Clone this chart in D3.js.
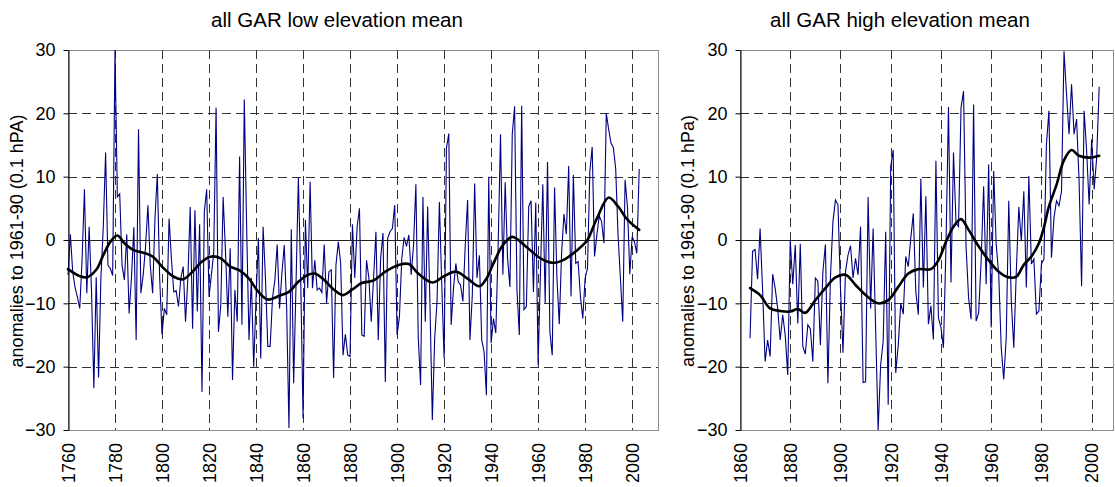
<!DOCTYPE html>
<html>
<head>
<meta charset="utf-8">
<script src="https://cdn.jsdelivr.net/npm/d3@7"></script>
<style>
  body { margin: 0; background: #fff; }
  text { font-family: "Liberation Sans", Arial, sans-serif; fill: #000; }
</style>
</head>
<body>
<div id="chart"></div>
<script>
/* Constant definitions */
const WIDTH = 1115
const HEIGHT = 487
const PLOT_TOP = 50
const PLOT_BOTTOM = 430
const Y_TICKS = [-30, -20, -10, 0, 10, 20, 30]
const GRID_Y = [-20, -10, 10, 20]

/* low elevation mean, annual values from 1760 */
const LOW_START = 1760
const lowValues = [
  -5.5, 0.9, -5, -7.5, -9, -10.8, -3, 8, -8.4, 2.1,
  -8, -23.4, -5.9, -21.7, -6, 2, 13.8, -4, -4.5, -5.6,
  30, 6.8, 7.3, -4, -6.3, 0.9, -11.6, -6, 2, -15.8,
  17.5, -8.4, -5.5, -1, 5.5, -4, -8.4, 3.4, 10.4, -6,
  -14.9, -10.8, -11.8, 3.4, -3, -8.2, -8, -10.5, -6, -4.2,
  -12.9, -6, 5.2, -14, 4.7, -11.3, 2.5, -24, 4.5, 8,
  -9, -5.5, -2, 20.9, -14.5, -10.3, 6.8, -1.8, -12.1, -1.3,
  -22.1, -7.9, -12.9, 13.2, -13.4, 22.2, 2.1, -15.8, -6, -20,
  -9.2, 0.3, -18.7, 2.1, -6, -16.8, -16.8, -9.2, -6.3, -0.7,
  -10.8, -5.3, -0.8, -10.3, -29.7, 1.7, -22.6, -7.1, 9.8, -6,
  -28.2, 3.2, -7.6, 9.2, -7.6, -3.2, -7.9, -7.6, -8.3, -0.7,
  -10, -5, -4.7, -21.8, -3.9, -0.3, -3.7, -18.2, -14.9, -18.2,
  -18.4, 2.5, -6, 2.1, 5, -15, -15.2, -3.2, -6, -12.9,
  -6, 1.3, -15.8, -2.9, 1.1, -22.4, 0.3, 1.3, 1.8, 5.5,
  -15, -12.1, -2.9, 0.4, -1, 0.8, -5.5, -0.8, 8.8, -15.3,
  -22.9, 6.8, -12.9, 5.3, -10.3, -28.4, -15.5, -9.7, 6, -7,
  -18.7, 14.5, 16.8, -13.4, -7.6, -3.7, -6.6, -7.1, -9.7, -0.8,
  6.3, -15.8, -8.7, 8.9, -6, -2.4, -15.8, -17.6, -24.5, 10,
  -16.3, -12.4, -14.7, -1, 16.7, -5.5, 9.1, -2.9, -7.4, 16.7,
  21.1, -7.9, -15, 21.2, -11, -10.5, 5.3, 6.2, -8.2, 5.9,
  -19.7, -5, 8.8, -10, 12.3, -14.5, -18.2, 8.3, -6, -13.3,
  -2, 4.1, 0.9, 11.7, -8.9, 10.3, -3.7, -3.4, -8.9, -12.4,
  -6, -4.5, 10.8, 14.7, -2.6, 0.8, 3.8, 2.9, -0.5, 20,
  17.5, 15.3, 14.6, 11.3, 0.8, -6, -12.9, 9.5, 5.3, -5.4,
  0.5, -0.3, -2.1, 11.2
]
const lowSmoothYears = [1760, 1765, 1768, 1772, 1775, 1778, 1781, 1784, 1788, 1792, 1796, 1800, 1805, 1809, 1813, 1817, 1821, 1825, 1829, 1833, 1837, 1841, 1845, 1850, 1854, 1858, 1862, 1865, 1869, 1873, 1877, 1881, 1885, 1890, 1895, 1901, 1905, 1909, 1915, 1920, 1925, 1930, 1935, 1938, 1941, 1945, 1949, 1955, 1961, 1966, 1970, 1975, 1979, 1981, 1985, 1990, 1994, 1998, 2003]
const lowSmooth = [-4.6, -5.7, -5.9, -4.7, -2.4, -0.3, 0.7, -0.5, -1.6, -2, -2.6, -4.2, -5.8, -6.2, -5, -3.4, -2.6, -2.9, -4.2, -4.8, -6.1, -8.2, -9.4, -8.8, -8.2, -6.6, -5.5, -5.3, -6.3, -7.8, -8.7, -7.8, -6.8, -6.4, -5, -3.9, -3.8, -5.3, -6.7, -5.7, -5, -6.1, -7.3, -6.1, -3.7, -0.8, 0.5, -1.1, -2.9, -3.6, -3.3, -2.1, -0.8, 0, 3.4, 6.7, 5.3, 3.2, 1.6]
const lowTicks = [1760, 1780, 1800, 1820, 1840, 1860, 1880, 1900, 1920, 1940, 1960, 1980, 2000]

/* high elevation mean, annual values from 1864 */
const HIGH_START = 1864
const highValues = [
  -15.5, -1.8, -1.5, -6.2, 1.8, -8,
  -19.2, -15.8, -18.4, -5.4, -7.6, -10.8, -15.8, -11.8, -15, -21.3,
  0, -7, -0.8, -13.2, -0.6, -16.8, -18, -13.4, -14, -19.2,
  -6, -6.5, -16.6, -5, -0.7, -22.6, -6, 2.9, 6.3, 5.6,
  -7.6, -17.8, -5, -2.4, -0.9, -6, -2.9, -5.5, 2.1, -22.5,
  -22.4, 6.8, -10.8, 1.8, -13.9, -30, -19.7, -16, 1.3, -26,
  11.6, 14.2, -21, -16.6, -10, -11.7, -2.6, -4.2, 0.3, 4.2,
  -8.2, -11.8, 9.7, -7.5, 6.9, -13.3, -10.4, -15.7, 12.5, -12.3,
  -13.8, -17, -1, 21, -6.7, 13.8, 2.7, 2.1, 20.9, 23.5,
  -1, -9.1, -12.5, 21.4, -12.8, -11.5, -3.3, 8.5, -7, 11.9,
  -13.8, 10.9, -0.7, -5.4, -17, -22, -15.4, 6.2, -9.6, -17,
  -5, 5.2, -0.2, 7.7, -7.5, 10.1, -3.8, -3, -11.7, -11.2,
  -3.8, -3, 15.1, 20.4, -2.8, 3.5, 6.2, 5.4, 7.7, 29.8,
  23, 16.7, 24.6, 16.7, 19.1, 9.3, -7.3, 20.4, 14.1, 5.6,
  15.9, 8, 13, 24.2
]
const highSmoothYears = [1864, 1868, 1872, 1876, 1880, 1883, 1886, 1890, 1894, 1898, 1902, 1906, 1910, 1915, 1919, 1923, 1927, 1931, 1936, 1939, 1942, 1945, 1948, 1951, 1955, 1959, 1963, 1967, 1970, 1973, 1976, 1979, 1981, 1983, 1986, 1989, 1992, 1995, 1999, 2003]
const highSmooth = [-7.6, -8.7, -10.8, -11.2, -11.3, -10.9, -11.5, -9.5, -7.6, -5.9, -5.5, -7.1, -8.7, -10, -9.5, -7.4, -5.3, -4.6, -4.6, -3.2, -0.3, 2.1, 3.3, 1.6, -1, -3.2, -5, -5.9, -5.8, -3.9, -2.6, -0.5, 2, 5.3, 8.7, 12.6, 14.2, 13.3, 13, 13.3]
const highTicks = [1860, 1880, 1900, 1920, 1940, 1960, 1980, 2000]

/* Define svg */
const canvas = d3.select("#chart")
                 .append("svg")
                 .attr("width", WIDTH)
                 .attr("height", HEIGHT);
canvas.append("rect").attr("width", WIDTH).attr("height", HEIGHT).attr("fill", "#fff");

const drawPanel = (p) => {
  const xScale = d3.scaleLinear().domain(p.domain).range([p.left, p.right]);
  const yScale = d3.scaleLinear().domain([-30, 30]).range([PLOT_BOTTOM, PLOT_TOP]);
  const g = canvas.append("g");

  // plot frame
  g.append("rect")
   .attr("x", p.left + 0.5).attr("y", PLOT_TOP + 0.5)
   .attr("width", p.right - p.left).attr("height", PLOT_BOTTOM - PLOT_TOP)
   .attr("fill", "none").attr("stroke", "#8c8c8c");

  // dashed grid
  g.selectAll(".hgrid").data(GRID_Y).enter().append("line")
   .attr("x1", p.left).attr("x2", p.right)
   .attr("y1", (d) => Math.round(yScale(d)) + 0.5).attr("y2", (d) => Math.round(yScale(d)) + 0.5)
   .attr("stroke", "#333").attr("stroke-dasharray", "9,5");
  g.selectAll(".vgrid").data(p.ticks.slice(1)).enter().append("line")
   .attr("x1", (d) => Math.round(xScale(d)) + 0.5).attr("x2", (d) => Math.round(xScale(d)) + 0.5)
   .attr("y1", PLOT_TOP).attr("y2", PLOT_BOTTOM)
   .attr("stroke", "#333").attr("stroke-dasharray", "9,5");

  // annual series
  const line = d3.line().x((d) => xScale(d[0])).y((d) => yScale(d[1]));
  const annual = p.values.map((v, i) => [p.start + i, v]);
  g.append("path").datum(annual)
   .attr("d", line).attr("fill", "none")
   .attr("stroke", "#000080").attr("stroke-width", 1.1);

  // zero line
  g.append("line")
   .attr("x1", p.left).attr("x2", p.right)
   .attr("y1", Math.round(yScale(0)) + 0.5).attr("y2", Math.round(yScale(0)) + 0.5)
   .attr("stroke", "#222");

  // smoothed curve
  const smooth = p.smoothYears.map((yr, i) => [yr, p.smooth[i]]);
  g.append("path").datum(smooth)
   .attr("d", line.curve(d3.curveCatmullRom)).attr("fill", "none")
   .attr("stroke", "#000").attr("stroke-width", 2.6)
   .attr("stroke-linejoin", "round").attr("stroke-linecap", "round");

  // value axis
  const yAxis = d3.axisLeft(yScale).tickValues(Y_TICKS).tickSizeInner(5).tickSizeOuter(0).tickPadding(8);
  const ya = g.append("g").attr("transform", "translate(" + (p.left + 0.5) + ",0)").call(yAxis);
  ya.select(".domain").attr("stroke", "#000");
  ya.selectAll("text").style("font-size", "18px").attr("font-family", null);

  // category labels, rotated
  const xAxis = d3.axisBottom(xScale).tickValues(p.ticks).tickSize(0).tickFormat(d3.format("d"));
  const xa = g.append("g").attr("transform", "translate(0," + PLOT_BOTTOM + ")").call(xAxis);
  xa.select(".domain").remove();
  xa.selectAll("text")
    .attr("transform", "rotate(-90)")
    .attr("x", -13).attr("y", 0).attr("dy", "0.35em")
    .attr("text-anchor", "end")
    .style("font-size", "18px");

  // titles
  g.append("text").attr("x", p.titleX).attr("y", 27)
   .attr("text-anchor", "middle").style("font-size", "20.5px").text(p.title);
  g.append("text")
   .attr("transform", "translate(" + p.labelX + ",241) rotate(-90)")
   .attr("text-anchor", "middle").style("font-size", "18px").text(p.yLabel);
}

drawPanel({
  left: 68, right: 658, domain: [1760, 2011],
  start: LOW_START, values: lowValues,
  smoothYears: lowSmoothYears, smooth: lowSmooth, ticks: lowTicks,
  title: "all GAR low elevation mean", titleX: 337,
  yLabel: "anomalies to 1961-90 (0.1 hPA)", labelX: 23
});
drawPanel({
  left: 740, right: 1113, domain: [1860, 2008.5],
  start: HIGH_START, values: highValues,
  smoothYears: highSmoothYears, smooth: highSmooth, ticks: highTicks,
  title: "all GAR high elevation mean", titleX: 900,
  yLabel: "anomalies to 1961-90 (0.1 hPa)", labelX: 694
});
</script>
</body>
</html>
